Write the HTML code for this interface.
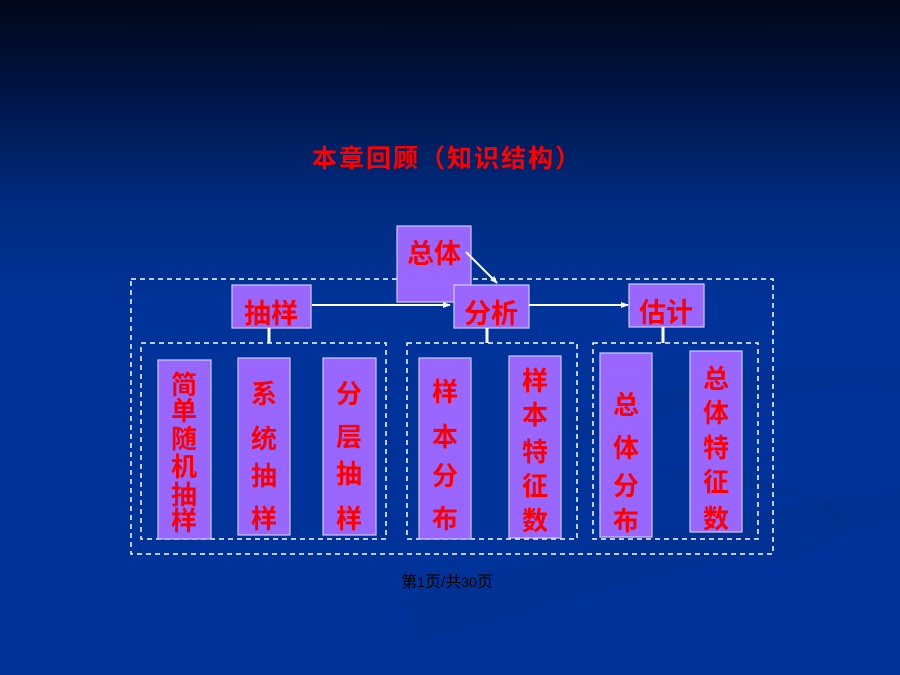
<!DOCTYPE html>
<html><head><meta charset="utf-8"><style>
html,body{margin:0;padding:0;width:900px;height:675px;overflow:hidden}
svg{display:block}
text{font-family:"Liberation Sans","Noto Sans CJK SC","WenQuanYi Zen Hei",sans-serif}
</style></head><body>
<svg width="900" height="675" viewBox="0 0 900 675" xmlns="http://www.w3.org/2000/svg">
<defs>
<linearGradient id="bg" x1="0" y1="0" x2="0" y2="1">
<stop offset="0" stop-color="#000718"/>
<stop offset="0.12" stop-color="#001340"/>
<stop offset="0.3" stop-color="#002b80"/>
<stop offset="0.45" stop-color="#003399"/>
<stop offset="1" stop-color="#003399"/>
</linearGradient>
<marker id="ah" markerWidth="8" markerHeight="8" refX="7" refY="4" orient="auto" markerUnits="userSpaceOnUse">
<path d="M0,1 L8,4 L0,7 z" fill="#fff"/>
</marker>
</defs>
<rect width="900" height="675" fill="url(#bg)"/>
<path d="M560,420 C700,370 850,360 900,370 L900,390 C820,380 700,400 580,440 Z" fill="#002f8e" opacity="0.5"/>
<path d="M400,600 C600,540 800,500 900,490 L900,520 C780,540 600,590 420,640 Z" fill="#002f8e" opacity="0.5"/>
<path d="M660,470 C760,480 840,500 840,520 C840,540 800,550 760,560" stroke="#002f8e" stroke-width="10" fill="none" opacity="0.5"/>

<text x="447" y="167" text-anchor="middle" font-size="25" font-weight="bold" letter-spacing="2" fill="#ff0000">本章回顾（知识结构）</text>

<g fill="none" stroke="#fff" stroke-width="1.5" stroke-dasharray="5,4">
<rect x="131" y="279" width="642" height="275"/>
<rect x="141" y="343" width="245" height="196"/>
<rect x="407" y="343" width="170" height="196"/>
<rect x="593" y="343" width="165" height="196"/>
</g>

<g fill="#9966ff" stroke="#ccccff" stroke-width="1.2">
<rect x="397" y="226" width="74" height="76"/>
<rect x="232" y="285" width="79" height="43"/>
<rect x="454" y="285" width="75" height="43"/>
<rect x="629" y="284" width="75" height="43"/>
<rect x="158" y="360" width="53" height="179"/>
<rect x="238" y="358" width="52" height="177"/>
<rect x="323" y="358" width="53" height="177"/>
<rect x="419" y="358" width="52" height="181"/>
<rect x="509" y="356" width="52" height="182"/>
<rect x="600" y="353" width="52" height="184"/>
<rect x="690" y="351" width="52" height="181"/>
</g>

<g stroke="#fff" stroke-width="3">
<line x1="269" y1="328" x2="269" y2="343"/>
<line x1="487" y1="328" x2="487" y2="343"/>
<line x1="663" y1="327" x2="663" y2="343"/>
</g>
<g stroke="#fff" stroke-width="2" fill="none">
<line x1="312" y1="305" x2="450" y2="305" marker-end="url(#ah)"/>
<line x1="529" y1="305" x2="628" y2="305" marker-end="url(#ah)"/>
<line x1="466" y1="252" x2="497" y2="283" marker-end="url(#ah)"/>
</g>

<g fill="#ff0000" font-size="27" font-weight="bold" text-anchor="middle">
<text x="434" y="263">总体</text>
<text x="271" y="323">抽样</text>
<text x="491" y="323">分析</text>
<text x="666" y="322">估计</text>
</g>
<g fill="#ff0000" font-size="26" font-weight="bold" text-anchor="middle">
<text x="184" y="394">简</text><text x="184" y="420">单</text><text x="184" y="448">随</text><text x="184" y="476">机</text><text x="184" y="504">抽</text><text x="184" y="530">样</text>
<text x="264" y="403">系</text><text x="264" y="448">统</text><text x="264" y="485">抽</text><text x="264" y="528">样</text>
<text x="349" y="403">分</text><text x="349" y="446">层</text><text x="349" y="483">抽</text><text x="349" y="528">样</text>
<text x="445" y="401">样</text><text x="445" y="446">本</text><text x="445" y="485">分</text><text x="445" y="528">布</text>
<text x="535" y="390">样</text><text x="535" y="424">本</text><text x="535" y="461">特</text><text x="535" y="495">征</text><text x="535" y="530">数</text>
<text x="626" y="414">总</text><text x="626" y="457">体</text><text x="626" y="495">分</text><text x="626" y="530">布</text>
<text x="716" y="388">总</text><text x="716" y="422">体</text><text x="716" y="457">特</text><text x="716" y="491">征</text><text x="716" y="528">数</text>
</g>

<text x="447" y="587" text-anchor="middle" font-size="16" fill="#000">第<tspan font-size="14">1</tspan>页/共<tspan font-size="14">30</tspan>页</text>
</svg>
</body></html>
